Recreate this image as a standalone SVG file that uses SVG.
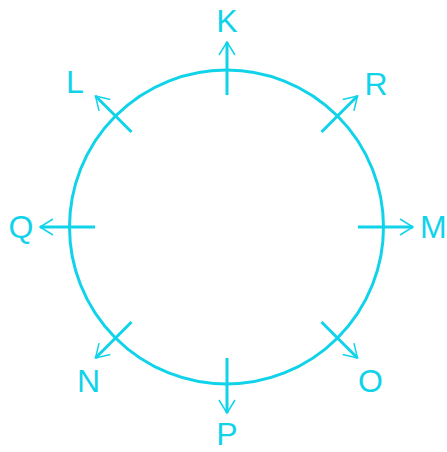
<svg xmlns="http://www.w3.org/2000/svg" width="447" height="452" viewBox="0 0 447 452">
  <style>
    .lbl { font-family: "Liberation Sans", Arial, sans-serif; font-size: 32px; fill: #10d3ea; text-anchor: middle; }
    .shaft { stroke: #10d3ea; stroke-width: 3; fill: none; marker-end: url(#arrow); }
    .ring { stroke: #10d3ea; stroke-width: 3; fill: none; }
  </style>
  <defs>
    <marker id="arrow" markerUnits="userSpaceOnUse" orient="auto" viewBox="-15 -10 17 20" markerWidth="17" markerHeight="20" refX="0" refY="0">
      <path d="M -13 -8 L 0 0 L -13 8" fill="none" stroke="#10d3ea" stroke-width="1.5"/>
    </marker>
  </defs>
  <rect width="447" height="452" fill="#ffffff"/>
  <g id="circle">
    <circle class="ring" cx="226.5" cy="227" r="157"/>
  </g>
  <g id="connectors">
    <line class="shaft" x1="227" y1="95" x2="227" y2="42"/>
    <line class="shaft" x1="227" y1="358" x2="227" y2="413"/>
    <line class="shaft" x1="95" y1="227" x2="40" y2="227"/>
    <line class="shaft" x1="358" y1="227" x2="413" y2="227"/>
    <line class="shaft" x1="131.5" y1="132" x2="95.5" y2="96"/>
    <line class="shaft" x1="321.5" y1="132" x2="357.5" y2="96"/>
    <line class="shaft" x1="131.5" y1="322" x2="95.5" y2="358"/>
    <line class="shaft" x1="321.5" y1="322" x2="357.5" y2="358"/>
  </g>
  <g id="node-K"><text class="lbl" x="227" y="32">K</text></g>
  <g id="node-L"><text class="lbl" x="75" y="93">L</text></g>
  <g id="node-R"><text class="lbl" x="376" y="95">R</text></g>
  <g id="node-Q"><text class="lbl" x="21" y="238">Q</text></g>
  <g id="node-M"><text class="lbl" x="420" y="238" style="text-anchor:start">M</text></g>
  <g id="node-N"><text class="lbl" x="88.5" y="392">N</text></g>
  <g id="node-O"><text class="lbl" x="370.5" y="392">O</text></g>
  <g id="node-P"><text class="lbl" x="227" y="445">P</text></g>
</svg>
